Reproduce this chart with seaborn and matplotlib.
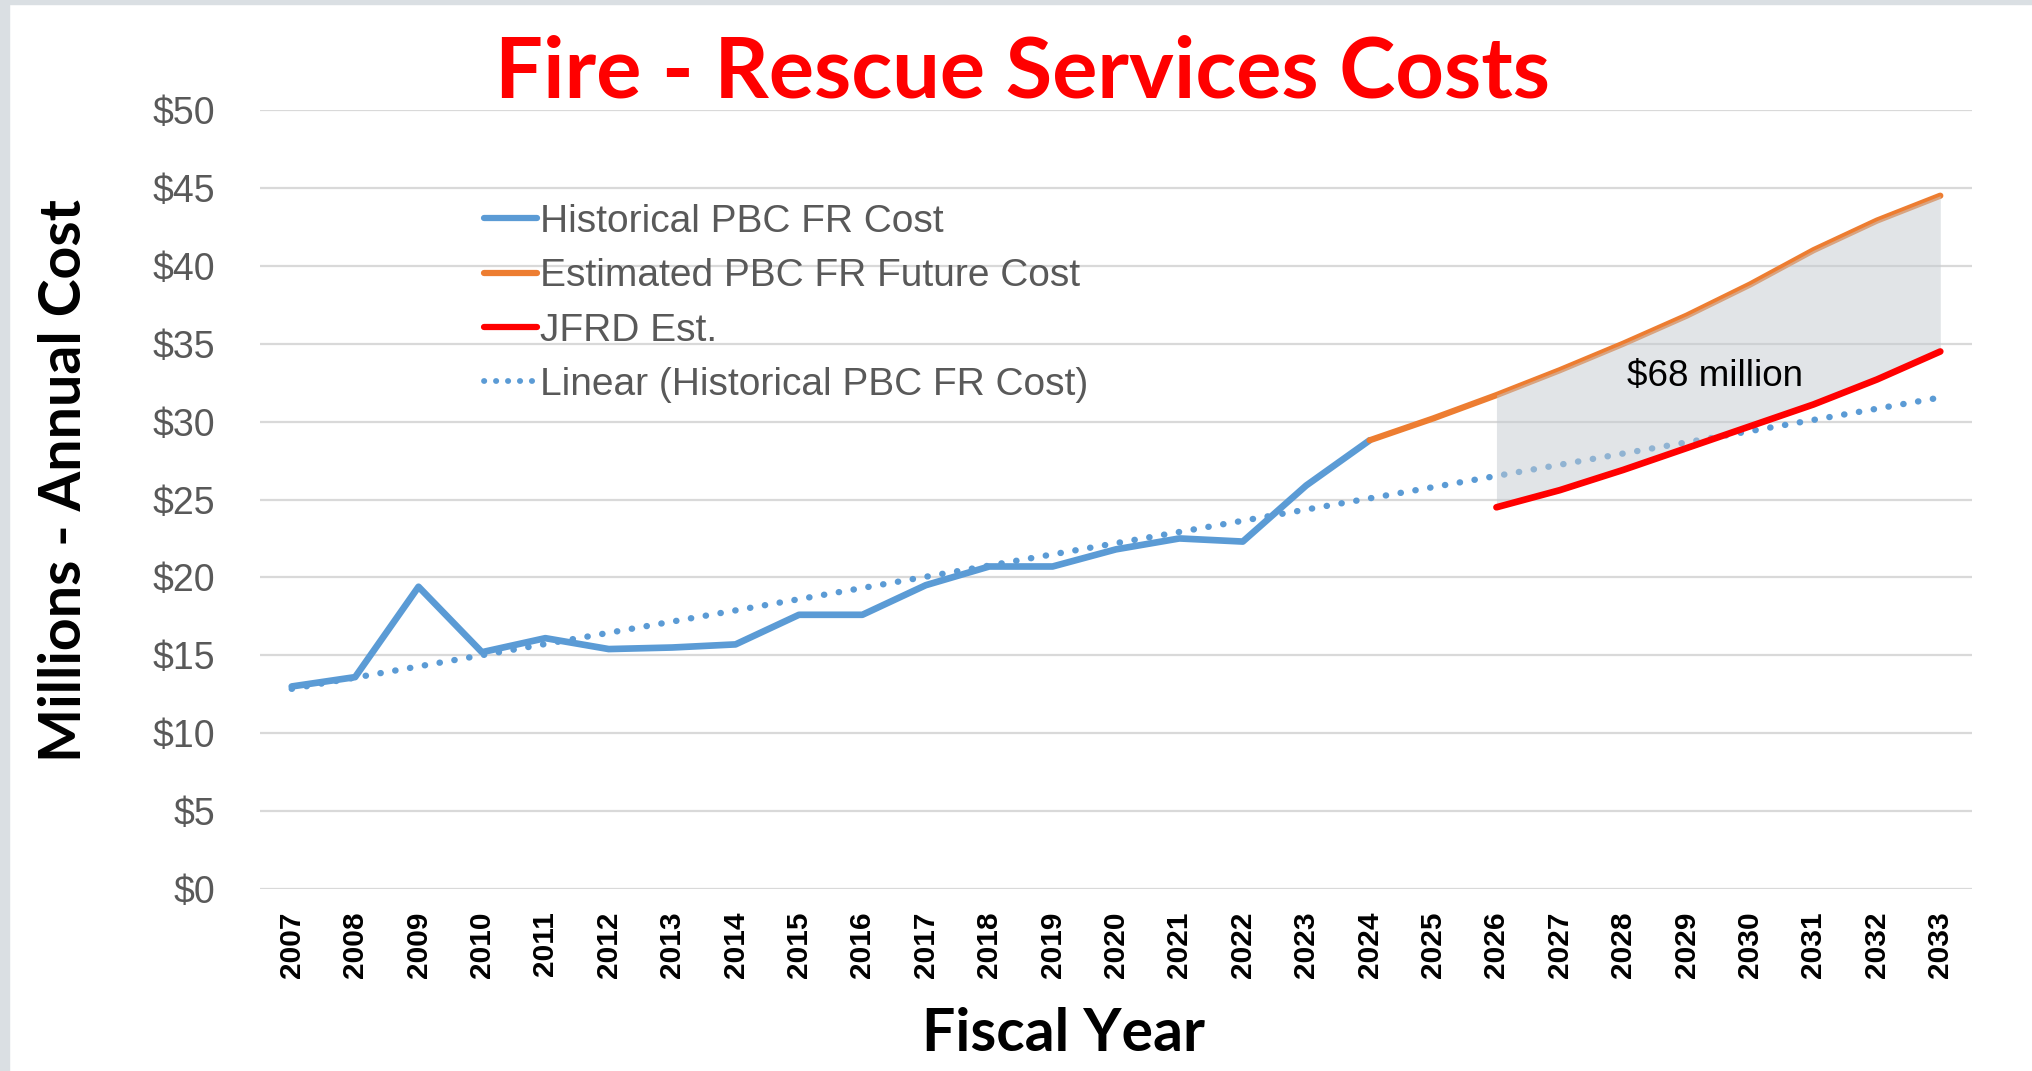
import numpy as np
import pandas as pd
import matplotlib
matplotlib.use("Agg")
import matplotlib.pyplot as plt
from matplotlib.lines import Line2D
import seaborn as sns

# values (millions of $)
hist_years = list(range(2007, 2025))
hist_cost = [13.0, 13.6, 19.4, 15.2, 16.1, 15.4, 15.5, 15.7, 17.6, 17.6,
             19.5, 20.7, 20.7, 21.8, 22.5, 22.3, 25.9, 28.8]
est_years = list(range(2024, 2034))
est_cost = [28.8, 30.2, 31.7, 33.3, 35.0, 36.8, 38.8, 41.0, 42.9, 44.5]
jfrd_years = list(range(2026, 2034))
jfrd_cost = [24.5, 25.6, 26.9, 28.3, 29.7, 31.1, 32.7, 34.5]
all_years = list(range(2007, 2034))
gap_label = "$68 million"

sns.set_style("white")
plt.rcParams['font.family'] = ['Liberation Sans', 'DejaVu Sans']

fig = plt.figure(figsize=(20.33, 10.71), dpi=100)
ax = fig.add_axes([260/2033, 1-889/1071, (1972-260)/2033, (889-110)/1071])

# linear trend of the historical series, as Excel draws it
coef = np.polyfit(hist_years, hist_cost, 1)
trend = np.polyval(coef, all_years)

blue = '#5B9BD5'
orange = '#ED7D31'
red = '#FF0000'
dots = (0, (0.05, 2.3))

sns.lineplot(x=all_years, y=trend, ax=ax, color=blue, lw=4.6,
             linestyle=dots, dash_capstyle='round', zorder=2)
sns.lineplot(x=hist_years, y=hist_cost, ax=ax, color=blue, lw=4.8,
             solid_capstyle='round', zorder=3)
sns.lineplot(x=est_years, y=est_cost, ax=ax, color=orange, lw=4.5,
             solid_capstyle='round', zorder=3)

# gray band between estimated and JFRD costs
est_s = pd.Series(est_cost, index=est_years)
ax.fill_between(jfrd_years, est_s.loc[jfrd_years].values, jfrd_cost,
                color='#C5CBD1', alpha=0.5, lw=0, zorder=4)
sns.lineplot(x=jfrd_years, y=jfrd_cost, ax=ax, color=red, lw=4.8,
             solid_capstyle='round', zorder=5)

ax.text(2029.45, 32.9, gap_label, fontsize=26.5, color='black',
        ha='center', va='center', zorder=6)

ax.set_xlim(2006.5, 2033.5)
ax.set_ylim(0, 50)
ax.set_yticks(range(0, 51, 5))
ax.set_yticklabels([f"${v}" for v in range(0, 51, 5)])
ax.set_xticks(all_years)
ax.set_xticklabels([str(y) for y in all_years], rotation=90,
                   fontweight='bold')
ax.tick_params(axis='y', labelsize=27, labelcolor='#595959', length=0, pad=32)
ax.tick_params(axis='x', labelsize=21.5, labelcolor='black', length=0, pad=16)
ax.yaxis.grid(True, color='#D9D9D9', lw=1.6)
ax.set_axisbelow(True)
for s in ax.spines.values():
    s.set_visible(False)
ax.set_xlabel('')
ax.set_ylabel('')

handles = [
    Line2D([], [], color=blue, lw=4.5, solid_capstyle='round'),
    Line2D([], [], color=orange, lw=4.5, solid_capstyle='round'),
    Line2D([], [], color=red, lw=4.5, solid_capstyle='round'),
    Line2D([], [], color=blue, lw=4.2, linestyle=(0, (0.05, 2.0)),
           dash_capstyle='round'),
]
labels = ['Historical PBC FR Cost', 'Estimated PBC FR Future Cost',
          'JFRD Est.', 'Linear (Historical PBC FR Cost)']
fig.legend(handles, labels, loc='upper left',
           bbox_to_anchor=(484/2033, 1-204/1071), frameon=False,
           fontsize=28, labelcolor='#595959', handlelength=1.37,
           handletextpad=0.08, labelspacing=0.47, borderpad=0,
           borderaxespad=0)

lato = ['Lato', 'DejaVu Sans']
fig.text(0.503, 1-97/1071, 'Fire - Rescue Services Costs', color='#FF0000',
         fontsize=61, fontweight='bold', family=lato,
         ha='center', va='baseline')
fig.text(65/2033, 1-481/1071, 'Millions - Annual Cost', rotation=90,
         fontsize=41.2, fontweight='bold', family=lato, color='black',
         ha='center', va='center')
fig.text(1063/2033, 1-1034/1071, 'Fiscal Year', fontsize=42.4,
         fontweight='bold', family=lato, color='black',
         ha='center', va='center')

# slide frame strips
fig.patches.append(plt.Rectangle((0, 0), 9/2033, 1, transform=fig.transFigure,
                                 color='#DADFE3', zorder=0))
fig.patches.append(plt.Rectangle((0, 1-4/1071), 1, 4/1071,
                                 transform=fig.transFigure, color='#DADFE3',
                                 zorder=0))

fig.savefig('out.png', dpi=100)
